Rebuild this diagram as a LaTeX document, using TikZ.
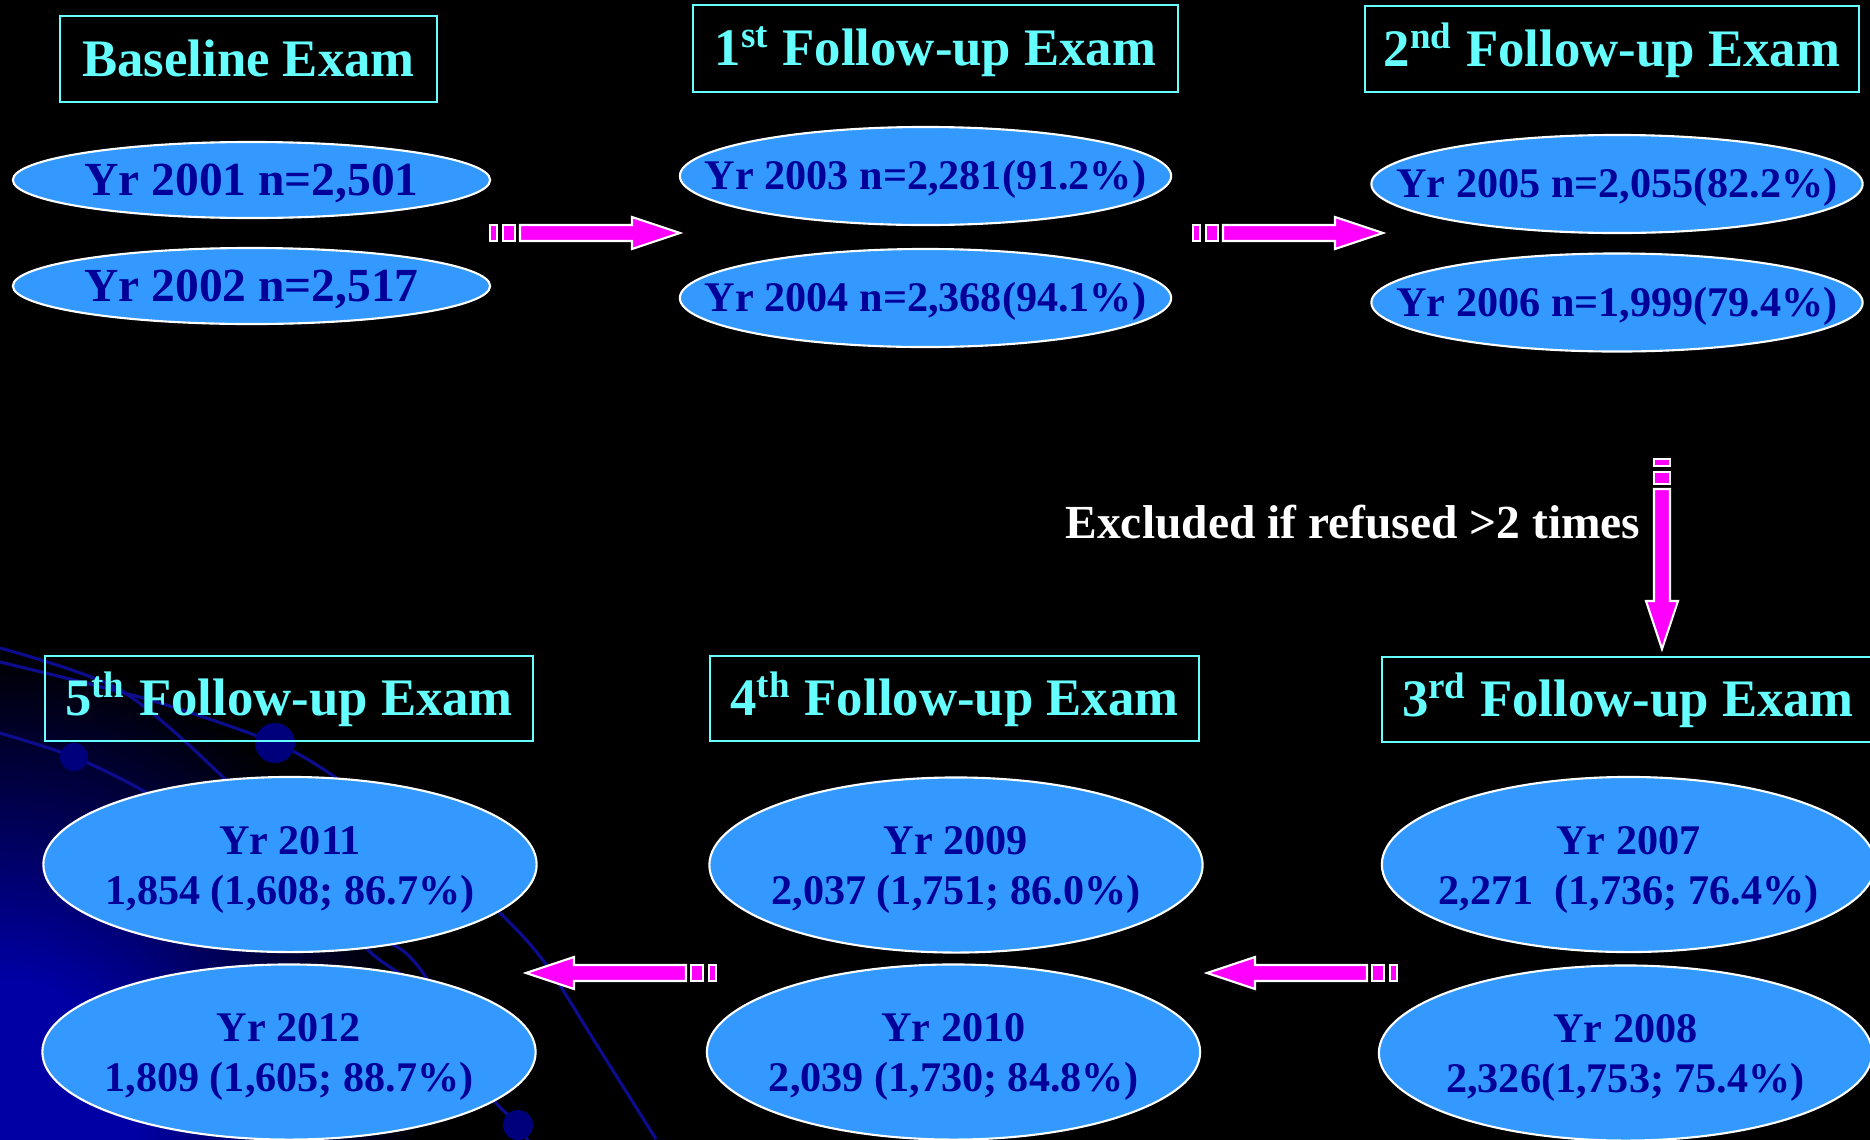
\documentclass[tikz,border=0pt]{standalone}
\usepackage{fontspec}
\setmainfont{Liberation Serif}
\usetikzlibrary{shapes.geometric}

\definecolor{examcyan}{RGB}{102,255,255}
\definecolor{yrblue}{RGB}{51,153,255}
\definecolor{yrnavy}{RGB}{0,0,153}
\definecolor{arrowpink}{RGB}{255,0,255}
\definecolor{glownavy}{RGB}{0,0,165}
\definecolor{arcnavy}{RGB}{12,12,140}
\definecolor{dotnavy}{RGB}{0,0,125}

\pgfdeclareradialshading{cornerglow}{\pgfpoint{0bp}{0bp}}{color(0bp)=(glownavy); color(8bp)=(glownavy); color(25bp)=(black); color(50bp)=(black)}

\newcommand{\wide}[1]{\makebox[0pt]{#1}}
\newcommand{\twolines}[2]{\begin{tabular}[t]{@{}c@{}}#1\\#2\end{tabular}}

% striped block arrow: tail coordinate, direction
\newcommand{\stripedarrow}[2]{%
  \begin{scope}[shift={(#1)}, rotate=#2]
    \filldraw[stripe] (0,-8) rectangle (7,8);
    \filldraw[stripe] (13,-8) rectangle (25,8);
    \filldraw[stripe] (30,-8) -- (142,-8) -- (142,-16) -- (190,0) -- (142,16) -- (142,8) -- (30,8) -- cycle;
  \end{scope}}

\tikzset{
  exam/.style={draw=examcyan, line width=0.6pt, text=examcyan, inner sep=0pt,
    font=\fontsize{15}{18}\selectfont\bfseries, text height=9.9pt, text depth=0pt},
  yr/.style={ellipse, fill=yrblue, draw=white, line width=0.6pt, text=yrnavy, inner sep=0pt},
  yrtop/.style={yr, minimum width=47.7mm, minimum height=7.6mm,
    font=\fontsize{13.5}{16}\selectfont\bfseries, text height=8.9pt, text depth=0pt},
  yrmid/.style={yr, minimum width=49.1mm, minimum height=9.8mm,
    font=\fontsize{12}{14.2}\selectfont\bfseries, text height=7.9pt, text depth=0pt},
  yrlow/.style={yr, minimum width=49.3mm, minimum height=17.5mm,
    font=\fontsize{12}{14.2}\selectfont\bfseries, text height=10pt, text depth=15.7pt},
  stripe/.style={fill=arrowpink, draw=white, line width=0.6pt},
  arc/.style={draw=arcnavy, line width=0.9pt},
  note/.style={text=white, inner sep=0pt, font=\fontsize{13.5}{16}\selectfont\bfseries},
}

\begin{document}
\begin{tikzpicture}[x=0.01cm, y=-0.01cm]
  \useasboundingbox (0,0) rectangle (1870,1139);
  \fill[black] (-20,-20) rectangle (1890,1160);

  % background glow and arcs, lower left
  \begin{scope}
    \clip (-20,-20) rectangle (1890,1160);
    \shade[shading=cornerglow] (0,1139) ellipse [x radius=4.2cm, y radius=4.9cm];
    \draw[arc] plot[smooth] coordinates {(0,648) (120,690) (223,777) (300,860) (366,948) (433,1000) (490,1095) (518,1125) (545,1170)};
    \draw[arc] plot[smooth] coordinates {(0,662) (150,700) (275,743) (335,777) (420,840) (500,913) (545,963) (600,1050) (656,1139)};
    \draw[arc] plot[smooth] coordinates {(0,733) (74,757) (147,793) (250,860) (330,920) (402,950) (440,1000) (480,1080)};
    \fill[dotnavy] (74,757) circle (1.4mm);
    \fill[dotnavy] (275,743) circle (2mm);
    \fill[dotnavy] (518,1125) circle (1.5mm);
  \end{scope}

  % exam headings
  \node[exam, minimum width=37.7mm, minimum height=8.6mm] (base) at (248.5,59) {Baseline Exam};
  \node[exam, minimum width=48.5mm, minimum height=8.7mm] (fu1) at (935.5,48.5) {1\textsuperscript{st} Follow-up Exam};
  \node[exam, minimum width=49.4mm, minimum height=8.6mm] (fu2) at (1612,49) {2\textsuperscript{nd} Follow-up Exam};
  \node[exam, minimum width=49.2mm, minimum height=8.5mm] (fu3) at (1628,699.5) {3\textsuperscript{rd} Follow-up Exam};
  \node[exam, minimum width=48.9mm, minimum height=8.5mm] (fu4) at (954.5,698.5) {4\textsuperscript{th} Follow-up Exam};
  \node[exam, minimum width=48.8mm, minimum height=8.5mm] (fu5) at (289,698.5) {5\textsuperscript{th} Follow-up Exam};

  % yearly counts
  \node[yrtop] (y01) at (251.5,180) {\wide{Yr 2001 n=2,501}};
  \node[yrtop] (y02) at (251.5,286) {\wide{Yr 2002 n=2,517}};
  \node[yrmid] (y03) at (925.5,176) {\wide{Yr 2003 n=2,281(91.2\%)}};
  \node[yrmid] (y04) at (925.5,298) {\wide{Yr 2004 n=2,368(94.1\%)}};
  \node[yrmid] (y05) at (1617,184) {\wide{Yr 2005 n=2,055(82.2\%)}};
  \node[yrmid] (y06) at (1617,302.5) {\wide{Yr 2006 n=1,999(79.4\%)}};
  \node[yrlow] (y07) at (1628.5,864.5) {\wide{\twolines{Yr 2007}{2,271\enspace(1,736; 76.4\%)}}};
  \node[yrlow] (y08) at (1625.5,1053) {\wide{\twolines{Yr 2008}{2,326(1,753; 75.4\%)}}};
  \node[yrlow] (y09) at (956,865) {\wide{\twolines{Yr 2009}{2,037 (1,751; 86.0\%)}}};
  \node[yrlow] (y10) at (953.5,1052) {\wide{\twolines{Yr 2010}{2,039 (1,730; 84.8\%)}}};
  \node[yrlow] (y11) at (290,864.5) {\wide{\twolines{Yr 2011}{1,854 (1,608; 86.7\%)}}};
  \node[yrlow] (y12) at (289,1052) {\wide{\twolines{Yr 2012}{1,809 (1,605; 88.7\%)}}};

  % flow arrows
  \coordinate (a1) at (490,233);
  \coordinate (a2) at (1193,233);
  \coordinate (a3) at (1662,459);
  \coordinate (a4) at (1397,973);
  \coordinate (a5) at (716,973);
  \stripedarrow{a1}{0}
  \stripedarrow{a2}{0}
  \stripedarrow{a3}{-90}
  \stripedarrow{a4}{180}
  \stripedarrow{a5}{180}

  \node[note, anchor=base east] (excl) at (1641,538) {Excluded if refused >2 times};
\end{tikzpicture}
\end{document}
